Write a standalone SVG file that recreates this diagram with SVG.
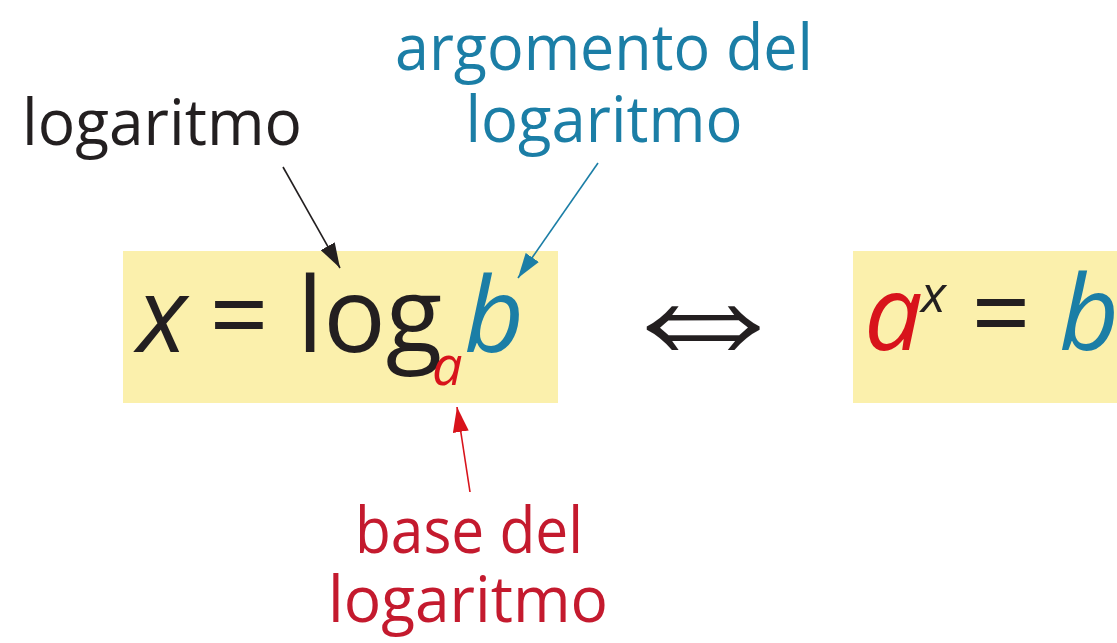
<svg xmlns="http://www.w3.org/2000/svg" width="1117" height="643" viewBox="0 0 1117 643">
<style>
.lbl{font-family:"Open Sans","Liberation Sans",sans-serif;font-size:64px;text-anchor:middle}
.f{font-family:"Open Sans","Liberation Sans",sans-serif;font-size:104px}
.it{font-style:italic}
.k{fill:#231F20}
.bl{fill:#1B7EA6}
.rd{fill:#C41A2E}
.ra{fill:#D8131B}
.box{fill:#FBF0AC}
.conn{fill:none;stroke-width:1.6}
</style>
<defs>
<marker id="mk" markerUnits="userSpaceOnUse" markerWidth="26" markerHeight="16" refX="25" refY="8" orient="auto"><path d="M0,0 L25,8 L0,16 z" fill="#231F20"/></marker>
<marker id="mb" markerUnits="userSpaceOnUse" markerWidth="26" markerHeight="16" refX="25" refY="8" orient="auto"><path d="M0,0 L25,8 L0,16 z" fill="#1B7EA6"/></marker>
<marker id="mr" markerUnits="userSpaceOnUse" markerWidth="26" markerHeight="16" refX="25" refY="8" orient="auto"><path d="M0,0 L25,8 L0,16 z" fill="#D8131B"/></marker>
</defs>
<rect width="1117" height="643" fill="#FFFFFF"/>
<g id="box-log">
<rect class="box" x="123" y="251" width="435" height="152"/>
<text class="f it k" x="137" y="352">x</text>
<text class="f k" x="239" y="352" text-anchor="middle">=</text>
<text class="f k" x="297" y="352">log</text>
<text class="f it ra" x="432" y="385" style="font-size:54px">a</text>
<text class="f it bl" x="464" y="352">b</text>
</g>
<g id="iff">
<text x="0" y="372" text-anchor="middle" transform="translate(703,0) scale(1.02,1)" style="font-family:'DejaVu Sans',sans-serif;font-weight:200;font-size:187px" class="k">⇔</text>
</g>
<g id="box-exp">
<rect class="box" x="853" y="251" width="264" height="152"/>
<text class="f it ra" x="864" y="350">a</text>
<text class="f it k" x="921" y="312" style="font-size:52px">x</text>
<text class="f k" x="1001" y="350" text-anchor="middle">=</text>
<text class="f it bl" x="1059" y="350">b</text>
</g>
<g id="label-logaritmo">
<text class="lbl k" x="162" y="145" textLength="280" lengthAdjust="spacingAndGlyphs">logaritmo</text>
</g>
<g id="label-argomento">
<text class="lbl bl" x="604" y="70" textLength="418" lengthAdjust="spacingAndGlyphs">argomento del</text>
<text class="lbl bl" x="604" y="142" textLength="277" lengthAdjust="spacingAndGlyphs">logaritmo</text>
</g>
<g id="label-base">
<text class="lbl rd" x="469" y="553" textLength="228" lengthAdjust="spacingAndGlyphs">base del</text>
<text class="lbl rd" x="468" y="622" textLength="280" lengthAdjust="spacingAndGlyphs">logaritmo</text>
</g>
<g id="connectors">
<line class="conn" x1="283" y1="167" x2="340" y2="268" stroke="#231F20" marker-end="url(#mk)"/>
<line class="conn" x1="598" y1="163" x2="518" y2="278" stroke="#1B7EA6" marker-end="url(#mb)"/>
<line class="conn" x1="470" y1="492" x2="457" y2="407" stroke="#D8131B" marker-end="url(#mr)"/>
</g>
</svg>
